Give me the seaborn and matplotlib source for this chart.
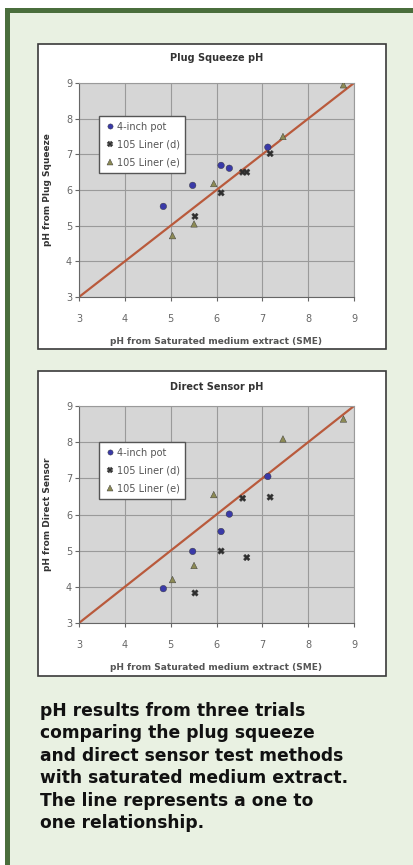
import numpy as np
import pandas as pd
import seaborn as sns
import matplotlib.pyplot as plt
from matplotlib.patches import Rectangle

# valores
trials = ["4-inch pot", "105 Liner (d)", "105 Liner (e)"]

sme_pot = [4.84, 5.48, 6.10, 6.28, 7.12]
squeeze_pot = [5.54, 6.13, 6.69, 6.61, 7.20]
sensor_pot = [3.95, 4.98, 5.53, 6.01, 7.05]

sme_d = [5.53, 6.10, 6.57, 6.66, 7.17]
squeeze_d = [5.26, 5.92, 6.50, 6.50, 7.02]
sensor_d = [3.83, 4.99, 6.45, 4.81, 6.48]

sme_e = [5.04, 5.51, 5.94, 7.45, 8.77]
squeeze_e = [4.72, 5.05, 6.18, 7.50, 8.95]
sensor_e = [4.20, 4.59, 6.55, 8.09, 8.64]

one_to_one = [3, 9]
ticks = [3, 4, 5, 6, 7, 8, 9]

caption = ("pH results from three trials\n"
           "comparing the plug squeeze\n"
           "and direct sensor test methods\n"
           "with saturated medium extract.\n"
           "The line represents a one to\n"
           "one relationship.")

df = pd.DataFrame({
    "Trial": [trials[0]] * len(sme_pot) + [trials[1]] * len(sme_d) + [trials[2]] * len(sme_e),
    "SME": sme_pot + sme_d + sme_e,
    "Squeeze": squeeze_pot + squeeze_d + squeeze_e,
    "Sensor": sensor_pot + sensor_d + sensor_e,
})

W, H = 413, 865
fig = plt.figure(figsize=(W / 100, H / 100), dpi=100)
fig.patch.set_facecolor("white")


def box(x0, y0, x1, y1, **kw):
    # retangulo em pixels (origem no topo)
    fig.patches.append(Rectangle((x0 / W, 1 - y1 / H), (x1 - x0) / W, (y1 - y0) / H,
                                 transform=fig.transFigure, zorder=-5, **kw))


# moldura verde
box(5, 8, W, H, facecolor="#4a6e3c", edgecolor="none")
box(10, 13, W, H, facecolor="#e9f1e2", edgecolor="none")
# caixas brancas
box(38, 44, 386, 349, facecolor="white", edgecolor="#3a3a3a", linewidth=1.2)
box(38, 371, 386, 676, facecolor="white", edgecolor="#3a3a3a", linewidth=1.2)

palette = {trials[0]: "#3a3aa8", trials[1]: "#2e2e2e", trials[2]: "#8c8a55"}
markers = {trials[0]: "o", trials[1]: "X", trials[2]: "^"}

panels = [
    ("Squeeze", "Plug Squeeze pH", "pH from Plug Squeeze", (79, 354, 83, 297), 58, 337),
    ("Sensor", "Direct Sensor pH", "pH from Direct Sensor", (79, 354, 406, 623), 387, 663),
]

for col, title, ylab, (l, r, t, b), ty, xy in panels:
    ax = fig.add_axes([l / W, 1 - b / H, (r - l) / W, (b - t) / H])
    ax.set_zorder(2)
    ax.set_facecolor("#d6d6d6")
    ax.set_axisbelow(True)
    ax.grid(True, color="#9a9a9a", linewidth=0.8)
    ax.plot(one_to_one, one_to_one, color="#b95a3c", linewidth=1.6, zorder=2)
    sns.scatterplot(data=df, x="SME", y=col, hue="Trial", style="Trial",
                    palette=palette, markers=markers, s=22, linewidth=0.3,
                    edgecolor="#333333", ax=ax, zorder=3)
    ax.set_xlim(3, 9)
    ax.set_ylim(3, 9)
    ax.set_xticks(ticks)
    ax.set_yticks(ticks)
    for s in ax.spines.values():
        s.set_color("#9a9a9a")
        s.set_linewidth(0.8)
    ax.spines["left"].set_color("#666666")
    ax.spines["bottom"].set_color("#666666")
    ax.tick_params(axis="both", labelsize=7, colors="#666666", length=3, width=0.8)
    ax.tick_params(axis="x", pad=9)
    ax.tick_params(axis="y", pad=2)
    ax.set_xlabel("pH from Saturated medium extract (SME)", fontsize=6.5,
                  fontweight="bold", color="#555555")
    ax.xaxis.set_label_coords(0.5, -(xy - b) / (b - t))
    ax.set_ylabel(ylab, fontsize=6.5, fontweight="bold", color="#333333")
    ax.yaxis.set_label_coords(-(l - 52) / (r - l), 0.5)
    ax.text(0.5, 1 + (t - ty) / (b - t), title, transform=ax.transAxes, ha="center",
            va="center", fontsize=7, fontweight="bold", color="#333333")
    leg = ax.legend(loc="upper left", bbox_to_anchor=(0.073, 0.846 if col == "Squeeze" else 0.834),
                    borderaxespad=0, fontsize=7, frameon=True, fancybox=False,
                    handletextpad=0.2, handlelength=1.0, borderpad=0.6, labelspacing=0.8,
                    markerscale=0.8)
    leg.get_frame().set_edgecolor("#555555")
    leg.get_frame().set_facecolor("white")
    leg.get_frame().set_alpha(1)
    for txt in leg.get_texts():
        txt.set_color("#555555")

fig.text(40 / W, 1 - 702 / H, caption, ha="left", va="top", fontsize=12.3,
         fontweight="bold", color="#111111", linespacing=1.32, family="DejaVu Sans")

fig.savefig("out.png", dpi=100)
